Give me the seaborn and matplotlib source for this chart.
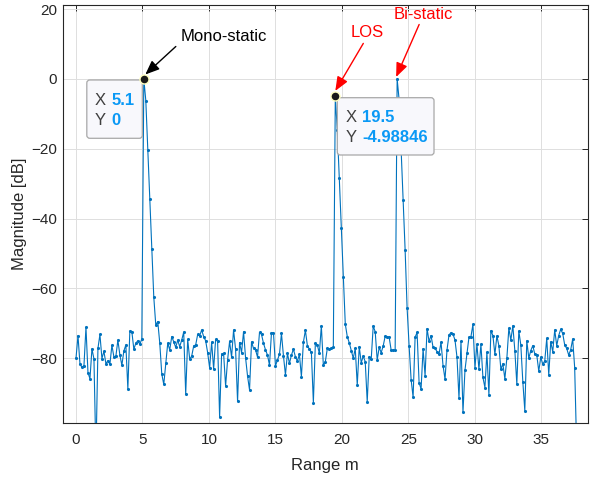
import numpy as np
import pandas as pd
import matplotlib
matplotlib.use("Agg")
import matplotlib.pyplot as plt
import matplotlib.transforms as mtransforms
from matplotlib.patches import FancyBboxPatch
import seaborn as sns

# Range-bin spacing of the FFT output (metres)
RANGE_STEP_M = 0.15

# Magnitude of each range bin (dB), bin 0 upwards
mag_db = [
    -80.0, -73.5, -81.7, -82.6, -82.1, -71.1, -84.1, -85.9, -77.3, -80.2,
    -108.0, -77.2, -73.2, -80.1, -78.0, -81.6, -80.7, -81.7, -76.3, -79.6,
    -79.4, -74.8, -79.1, -82.0, -77.9, -76.2, -88.8, -72.2, -72.4, -77.4,
    -75.7, -75.0, -76.0, -74.5,
    0.0, -6.2, -20.3, -34.4, -48.7, -62.5,
    -70.5, -69.5, -75.7, -84.5, -87.5, -81.5, -75.7, -77.6, -73.8, -75.3,
    -76.9, -74.8, -76.7, -74.8, -72.5, -90.3, -74.6, -80.3, -79.4, -76.5,
    -76.2, -73.2, -73.6, -71.9, -73.8, -75.0, -78.4, -82.8, -75.4, -83.1,
    -74.6, -75.2, -96.9, -78.8, -78.6, -88.0, -80.5, -75.2, -79.7, -71.9,
    -77.4, -92.4, -75.5, -78.4, -72.4,
    -79.8, -85.1, -89.1, -75.3, -77.2, -77.6, -79.7, -72.6, -73.2, -75.7,
    -77.6, -79.1, -82.0, -72.7, -72.7, -82.2, -80.5, -78.9, -72.9, -79.3,
    -84.8, -78.6, -81.5, -79.1, -77.4, -79.6, -80.8, -78.9, -85.3, -75.4,
    -72.0, -76.4, -77.4, -78.3, -92.7, -75.7, -76.2, -78.6, -70.7, -82.0,
    -81.0, -77.2,
    -77.5, -77.1, -76.9,
    -4.98846, -14.6, -28.5, -42.8, -56.8,
    -70.2, -73.8, -75.6, -77.8, -80.0, -77.2, -87.7, -76.7, -81.3, -79.4,
    -81.0, -92.5, -79.6, -80.3, -70.8, -72.4, -80.5, -76.9, -78.4, -76.5,
    -73.7, -73.8, -74.0, -77.7, -77.7, -77.7,
    0.0, -6.0, -20.0, -34.7, -49.0, -65.7, -76.5, -86.1, -91.2,
    -74.0, -72.6, -87.0, -88.8, -77.3, -85.0, -71.5, -75.2, -73.5, -76.9,
    -77.2, -78.1, -78.8, -75.4, -82.1, -86.0, -77.6, -73.3, -72.7, -73.1,
    -74.8, -79.7, -91.5, -75.2, -95.5, -83.4, -78.6, -74.0, -73.8, -70.3,
    -82.7, -76.0, -83.2, -76.0, -85.5, -88.4, -78.3, -90.5, -72.1, -73.5,
    -78.9,
    -73.6, -76.4, -83.2, -81.6, -85.9, -80.0, -71.4, -74.8, -70.7, -77.8,
    -87.4, -72.2, -76.2, -86.7, -95.0, -75.0, -80.0, -77.8, -76.4, -78.8,
    -79.1, -83.7, -79.7, -81.7, -80.8, -74.3, -84.8, -75.3, -78.1, -71.9,
    -76.4, -73.5, -71.7, -72.9, -76.2, -77.2, -79.1, -77.6, -74.5, -82.7,
    -106.0,
]
range_m = np.round(np.arange(len(mag_db)) * RANGE_STEP_M, 2)

# Bins that carry a data tip
tip_bins = [34, 130]
# Annotated targets: label, bin, colour
target_labels = ["Mono-static", "LOS", "Bi-static"]
target_bins = [34, 130, 161]
target_colors = ["black", "#ff0000", "#ff0000"]

xticks = [0, 5, 10, 15, 20, 25, 30, 35]
yticks = [-80, -60, -40, -20, 0, 20]

df = pd.DataFrame({"Range m": range_m, "Magnitude [dB]": mag_db})

sns.set_style("white")
plt.rcParams["font.family"] = ["Liberation Sans", "DejaVu Sans"]

AX_COL = "#262626"
LINE_COL = "#0072BD"

fig = plt.figure(figsize=(5.92, 4.8), dpi=100)
ax = fig.add_axes([0.1059, 0.1181, 0.8873, 0.8715])

sns.lineplot(data=df, x="Range m", y="Magnitude [dB]", ax=ax, color=LINE_COL,
             linewidth=0.8, marker=".", markersize=4.5, markeredgewidth=0,
             errorbar=None, sort=False, zorder=3)

ax.set_xlim(-1.0, 38.5)
ax.set_ylim(-98.65, 21.2)
ax.set_xticks(xticks)
ax.set_yticks(yticks)
ax.grid(True, color="#dfdfdf", linewidth=0.7)
ax.set_axisbelow(True)
for s in ax.spines.values():
    s.set_color(AX_COL)
    s.set_linewidth(0.8)
ax.tick_params(direction="in", top=True, right=True, length=4, width=0.7,
               colors=AX_COL, labelsize=11)
ax.tick_params(axis="x", pad=7)
ax.tick_params(axis="y", pad=4)
ax.set_xlabel("Range m", fontsize=12, color=AX_COL, labelpad=8)
ax.set_ylabel("Magnitude [dB]", fontsize=12, color=AX_COL, labelpad=3)


def at_point(x, y):
    """Transform whose origin is the data point (x, y), units in pixels."""
    return mtransforms.IdentityTransform() + mtransforms.ScaledTranslation(x, y, ax.transData)


# Data tips: marker, box and X/Y readout
tip_layout = {
    34: dict(box=(-57.0, -59.3, 55.5, 58.3), text_x=-49.0),
    130: dict(box=(2.0, -58.6, 96.7, 57.3), text_x=10.3),
}
for b in tip_bins:
    x, y = range_m[b], mag_db[b]
    lay = tip_layout[b]
    tf = at_point(x, y)
    bx, by, bw, bh = lay["box"]
    ax.add_patch(FancyBboxPatch((bx, by), bw, bh, boxstyle="round,pad=0,rounding_size=3",
                                transform=tf, facecolor="#f8f8fc", edgecolor="#a8a8a8",
                                linewidth=0.9, zorder=6, clip_on=False))
    tx = lay["text_x"]
    for row, (lab, val) in enumerate([("X", x), ("Y", y)]):
        ty = -21.5 - row * 20.0
        ax.text(tx, ty, lab, transform=tf, fontsize=12, color="#404040",
                va="center", ha="left", zorder=7)
        ax.text(tx + 16.5, ty, f"{val:g}", transform=tf, fontsize=12, color="#0a99f5",
                fontweight="bold", va="center", ha="left", zorder=7)

sns.scatterplot(x=[range_m[b] for b in tip_bins], y=[mag_db[b] for b in tip_bins],
                ax=ax, s=42, color="#1a1a1a", edgecolor="#ffffc0", linewidth=1.0,
                zorder=8, legend=False)

# Arrow annotations: (tip offset, tail offset from tip, text offset) in pixels
arrow_layout = {
    "Mono-static": dict(tip=(1.5, 4.5), tail=(30.5, 28.0), text=(37.0, 42.0), ha="left"),
    "LOS": dict(tip=(0.0, 5.5), tail=(28.0, 47.5), text=(31.5, 64.0), ha="center"),
    "Bi-static": dict(tip=(-1.0, 2.0), tail=(23.0, 52.5), text=(26.0, 64.0), ha="center"),
}
for lab, b, col in zip(target_labels, target_bins, target_colors):
    x, y = range_m[b], mag_db[b]
    lay = arrow_layout[lab]
    tip_tf = mtransforms.offset_copy(ax.transData, fig=fig, x=lay["tip"][0],
                                     y=lay["tip"][1], units="dots")
    ax.annotate("", xy=(x, y), xycoords=tip_tf, xytext=lay["tail"],
                textcoords="offset pixels",
                arrowprops=dict(arrowstyle="-|>,head_length=0.85,head_width=0.35",
                                color=col, lw=1.0, shrinkA=0, shrinkB=0),
                zorder=9, annotation_clip=False)
    ax.text(lay["text"][0], lay["text"][1], lab, transform=at_point(x, y),
            fontsize=12, color=col, ha=lay["ha"], va="center", zorder=9)

fig.savefig("out.png", dpi=100)
